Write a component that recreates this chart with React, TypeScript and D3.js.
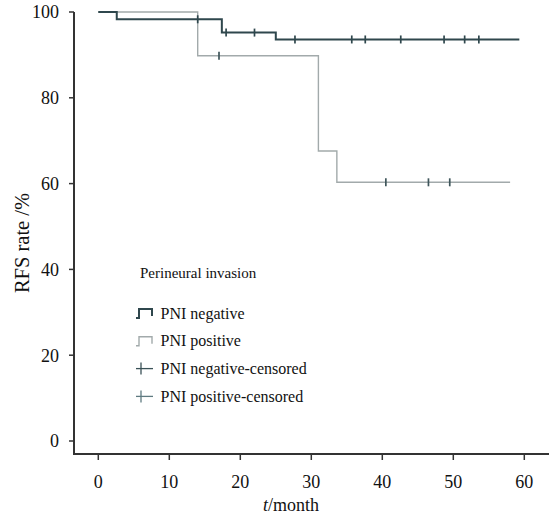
import React from "react";
import * as d3 from "d3";

// step data (month, RFS %)
const negMonths = [0, 2.6, 17.4, 25.0, 59.3];
const negRates = [100, 98.3, 95.2, 93.6, 93.6];
const posMonths = [0, 14.0, 31.0, 33.6, 58.0];
const posRates = [100, 89.8, 67.6, 60.3, 60.3];
const negCensored = [14.0, 18.0, 22.0, 27.7, 35.7, 37.6, 42.6, 48.7, 51.6, 53.6];
const posCensored = [17.0, 40.5, 46.5, 49.5];
const xTicks = [0, 10, 20, 30, 40, 50, 60];
const yTicks = [0, 20, 40, 60, 80, 100];
const legendLabels = ["PNI negative", "PNI positive", "PNI negative-censored", "PNI positive-censored"];

const W = 549;
const H = 517;
const FONT = "Liberation Serif, Times New Roman, DejaVu Serif, serif";
const DARK = "#2f474d";
const LIGHT = "#a2aaab";
const AXIS = "#333";

function rateAt(months: number[], rates: number[], t: number) {
  let v = rates[0];
  for (let i = 0; i < months.length; i++) if (months[i] <= t) v = rates[i];
  return v;
}

export default function App() {
  const x = d3.scaleLinear().domain([0, 60]).range([98.3, 524.3]);
  const y = d3.scaleLinear().domain([0, 100]).range([441, 12]);
  const axisX = 74;
  const axisY = 454;

  const line = d3
    .line<[number, number]>()
    .x((d) => x(d[0]))
    .y((d) => y(d[1]))
    .curve(d3.curveStepAfter);

  const negPath = line(negMonths.map((m, i) => [m, negRates[i]]));
  const posPath = line(posMonths.map((m, i) => [m, posRates[i]]));

  const lx = 136;
  const ly0 = 313;
  const lstep = 27.8;

  return (
    <svg
      width={W}
      height={H}
      style={{ position: "absolute", left: 0, top: 0, background: "#fff", fontFamily: FONT }}
    >
      {/* axes */}
      <line x1={axisX} y1={y(100)} x2={axisX} y2={axisY} stroke={AXIS} strokeWidth={2} />
      <line x1={axisX - 1} y1={axisY} x2={W} y2={axisY} stroke={AXIS} strokeWidth={2} />
      {yTicks.map((t) => (
        <g key={"y" + t}>
          <line x1={axisX - 5} x2={axisX} y1={y(t)} y2={y(t)} stroke={AXIS} strokeWidth={1.5} />
          <text x={59} y={y(t)} dy="0.35em" textAnchor="end" fontSize={18} fill="#111">
            {t}
          </text>
        </g>
      ))}
      {xTicks.map((t) => (
        <g key={"x" + t}>
          <line x1={x(t)} x2={x(t)} y1={axisY} y2={axisY + 6} stroke={AXIS} strokeWidth={1.5} />
          <text x={x(t)} y={488} textAnchor="middle" fontSize={18} fill="#111">
            {t}
          </text>
        </g>
      ))}
      <text x={291} y={511} textAnchor="middle" fontSize={18} fill="#111">
        <tspan fontStyle="italic">t</tspan>/month
      </text>
      <text
        transform={`translate(29, 243) rotate(-90)`}
        textAnchor="middle"
        fontSize={20.5}
        fill="#111"
      >
        RFS rate /%
      </text>

      {/* curves */}
      <path d={posPath || ""} fill="none" stroke={LIGHT} strokeWidth={1.4} />
      <path d={negPath || ""} fill="none" stroke={DARK} strokeWidth={2} />

      {/* censor marks */}
      {negCensored.map((t, i) => {
        const cy = y(rateAt(negMonths, negRates, t));
        return (
          <line key={"nc" + i} x1={x(t)} x2={x(t)} y1={cy - 4} y2={cy + 4} stroke={DARK} strokeWidth={1.7} />
        );
      })}
      {posCensored.map((t, i) => {
        const cy = y(rateAt(posMonths, posRates, t));
        return (
          <line key={"pc" + i} x1={x(t)} x2={x(t)} y1={cy - 4} y2={cy + 4} stroke="#3f565b" strokeWidth={1.7} />
        );
      })}

      {/* legend */}
      <text x={140} y={273} dy="0.35em" fontSize={15} fill="#111">
        Perineural invasion
      </text>
      {legendLabels.map((lab, i) => {
        const cy = ly0 + i * lstep;
        let sym;
        if (i < 2) {
          sym = (
            <path
              d={`M${lx},${cy + 5} H${lx + 3} V${cy - 4} H${lx + 16} V${cy + 3}`}
              fill="none"
              stroke={i === 0 ? DARK : LIGHT}
              strokeWidth={i === 0 ? 2 : 1.4}
            />
          );
        } else {
          sym = (
            <g stroke={i === 2 ? "#3a5157" : "#5f7a80"} strokeWidth={1.3}>
              <line x1={lx} x2={lx + 17} y1={cy} y2={cy} />
              <line x1={lx + 5} x2={lx + 5} y1={cy - 6} y2={cy + 6} />
            </g>
          );
        }
        return (
          <g key={lab}>
            {sym}
            <text x={160.5} y={cy} dy="0.35em" fontSize={16} fill="#111">
              {lab}
            </text>
          </g>
        );
      })}
    </svg>
  );
}
